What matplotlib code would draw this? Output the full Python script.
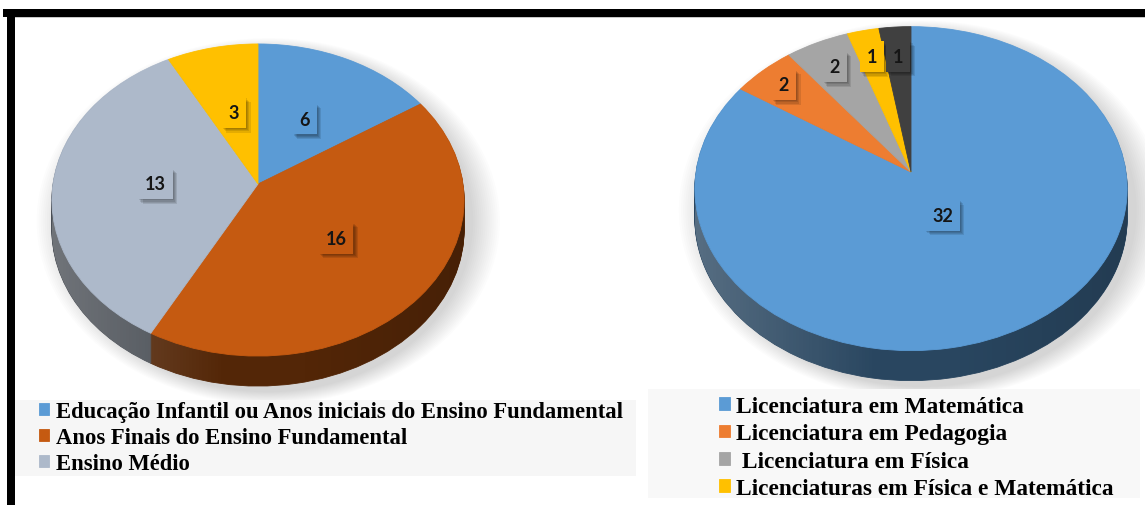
import numpy as np
import matplotlib
matplotlib.use('Agg')
import matplotlib.pyplot as plt
from matplotlib.transforms import Transform, Affine2D
from matplotlib.patches import Rectangle, Ellipse, Polygon
from matplotlib import patheffects as pe
from matplotlib.colors import to_rgb

# dados - etapa de atuação
atuacao_labels = ['Educação Infantil ou Anos iniciais do Ensino Fundamental',
                  'Anos Finais do Ensino Fundamental',
                  'Ensino Médio']
atuacao_values = [6, 16, 13, 3]
atuacao_colors = ['#5B9BD5', '#C55A11', '#ADB9CA', '#FFC000']

# dados - formação
formacao_labels = ['Licenciatura em Matemática',
                   'Licenciatura em Pedagogia',
                   ' Licenciatura em Física',
                   'Licenciaturas em Física e Matemática']
formacao_values = [32, 2, 2, 1, 1]
formacao_colors = ['#5B9BD5', '#ED7D31', '#A5A5A5', '#FFC000', '#404040']

W, H = 1145, 506
fig = plt.figure(figsize=(W / 100, H / 100), dpi=100)
fig.patch.set_facecolor('white')


class Perspectiva(Transform):
    """projeção simples para simular a pizza 3D inclinada"""
    input_dims = 2
    output_dims = 2

    def __init__(self, k):
        super().__init__()
        self.k = k

    def transform_non_affine(self, values):
        values = np.asarray(values, dtype=float)
        s = 1.0 / (1.0 + self.k * values[:, 1])
        return np.column_stack([values[:, 0] * s, values[:, 1] * s])


def escurecer(cor, f):
    r, g, b = to_rgb(cor)
    return (r * f, g * f, b * f)


def rect_px(x0, y0, x1, y1, cor, z=1):
    fig.add_artist(Rectangle((x0 / W, 1 - y1 / H), (x1 - x0) / W, (y1 - y0) / H,
                             transform=fig.transFigure, facecolor=cor,
                             edgecolor='none', zorder=z))


def pizza_3d(cx, cy, rx, c, k, prof_px, valores, cores, dist, fator_lado):
    xl, xr, yb, yt = -1.3, 1.3, -1.7, 1.2
    ax = fig.add_axes([(cx + xl * rx) / W, (H - cy + yb * c) / H,
                       (xr - xl) * rx / W, (yt - yb) * c / H])
    persp = Perspectiva(k)
    prof = prof_px / c
    ytop = 1 / (1 + k)
    ybot = -1 / (1 - k) - prof

    # sombra suave (mais para a direita e para baixo)
    for i in range(14):
        e = 0.005 * i
        ax.add_patch(Ellipse((0.05, (ytop + ybot) / 2 - 0.04),
                             2.0 + 2 * e * 2.0, (ytop - ybot) + 2 * e * 1.2,
                             facecolor='black', edgecolor='none', alpha=0.013,
                             zorder=0))

    # lateral
    lado = [escurecer(cc, fator_lado) for cc in cores]
    n = 30
    for i in range(n, 0, -1):
        dz = prof * i / n
        ws, _ = ax.pie(valores, colors=lado, startangle=90, counterclock=False,
                       wedgeprops=dict(linewidth=0.6))
        for w in ws:
            w.set_edgecolor(w.get_facecolor())
            w.set_transform(persp + Affine2D().translate(0, -dz) + ax.transData)
            w.set_zorder(1)

    # brilho / sombra na lateral
    t = np.linspace(np.pi, 2 * np.pi, 200)
    frente = persp.transform(np.column_stack([np.cos(t), np.sin(t)]))
    baixo = frente[::-1] - np.array([0, prof])
    clip = Polygon(np.vstack([frente, baixo]), closed=True,
                   transform=ax.transData)
    xs = np.linspace(-1, 1, 256)
    grad = np.zeros((1, 256, 4))
    branco = np.clip((-0.15 - xs) / 0.85, 0, 1) * 0.22
    preto = np.clip((xs - 0.2) / 0.8, 0, 1) * 0.15
    grad[0, :, :3] = np.where(branco[:, None] > 0, 1.0, 0.0)
    grad[0, :, 3] = branco + preto
    im = ax.imshow(grad, extent=(-1.02, 1.02, ybot - 0.02, 0.2), aspect='auto',
                   zorder=1.5, interpolation='bilinear')
    im.set_clip_path(clip)

    # topo
    wedges, _ = ax.pie(valores, colors=cores, startangle=90, counterclock=False,
                       wedgeprops=dict(linewidth=0.6))
    for w in wedges:
        w.set_edgecolor(w.get_facecolor())
        w.set_transform(persp + ax.transData)
        w.set_zorder(2)

    # rótulos
    sombra = [pe.SimplePatchShadow(offset=(o, -o), shadow_rgbFace='black',
                                   alpha=0.1) for o in (0.8, 1.6, 2.4, 3.2)]
    for w, v, d in zip(wedges, valores, dist):
        ang = np.deg2rad((w.theta1 + w.theta2) / 2)
        tx = ax.text(d * np.cos(ang), d * np.sin(ang), str(v),
                     transform=persp + ax.transData, ha='center', va='center',
                     fontsize=13, fontweight='bold', family='Lato',
                     color='#151515', zorder=6,
                     bbox=dict(boxstyle='square,pad=0.38',
                               facecolor=w.get_facecolor(), edgecolor='none'))
        tx.get_bbox_patch().set_path_effects(sombra + [pe.Normal()])

    ax.set_xlim(xl, xr)
    ax.set_ylim(yb, yt)
    ax.set_aspect('auto')
    ax.axis('off')
    return wedges


w1 = pizza_3d(258, 185, 205, 154.4, 0.1026, 30, atuacao_values, atuacao_colors,
              [0.5, 0.5, 0.5, 0.5], 0.42)
w2 = pizza_3d(911, 173, 215, 160.3, 0.1026, 30, formacao_values, formacao_colors,
              [0.3, 0.85, 0.8, 0.8, 0.78], 0.45)

# fundos das legendas
rect_px(14, 401, 636, 477, '#f6f6f6')
rect_px(648, 390, 1140, 499, '#f8f8f8')

fig.legend(w1[:3], atuacao_labels, loc='upper left',
           bbox_to_anchor=(39 / W, 1 - 402 / H), frameon=False,
           prop=dict(family='Liberation Serif', weight='bold', size=16.3),
           borderpad=0, borderaxespad=0, handlelength=0.45, handleheight=0.45,
           handletextpad=0.3, labelspacing=0.22)
fig.legend(w2[:4], formacao_labels, loc='upper left',
           bbox_to_anchor=(719 / W, 1 - 397 / H), frameon=False,
           prop=dict(family='Liberation Serif', weight='bold', size=16.8),
           borderpad=0, borderaxespad=0, handlelength=0.45, handleheight=0.45,
           handletextpad=0.3, labelspacing=0.27)

# moldura preta
rect_px(3, 10, W, 18, 'black', 10)
rect_px(7, 10, 15, H, 'black', 10)
rect_px(15, 18, W, 19, '#c8c8c8', 10)

fig.savefig('out.png', dpi=100, facecolor='white')
